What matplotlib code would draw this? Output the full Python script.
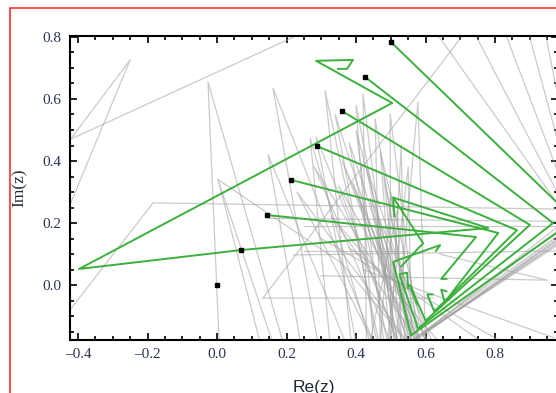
import matplotlib.pyplot as plt
from matplotlib.patches import Rectangle
from matplotlib.ticker import MultipleLocator

# starting points (black squares)
start_x = [0.0, 0.069, 0.144, 0.213, 0.288, 0.360, 0.426, 0.500]
start_y = [0.0, 0.113, 0.226, 0.339, 0.448, 0.561, 0.671, 0.784]

# green orbits
green_paths = [
    [(0.069, 0.113), (-0.397, 0.052), (0.504, 0.587), (0.285, 0.723), (0.391, 0.726), (0.374, 0.697), (0.348, 0.697)],
    [(0.069, 0.113), (0.78, 0.184), (0.507, 0.282), (0.593, 0.135), (0.53, 0.06)],
    [(0.507, 0.282), (0.51, 0.222)],
    [(0.144, 0.226), (0.745, 0.155), (0.645, 0.02), (0.66, 0.02)],
    [(0.213, 0.339), (0.809, 0.168), (0.655, -0.055), (0.645, -0.015), (0.66, -0.02)],
    [(0.288, 0.448), (0.863, 0.177), (0.625, -0.085), (0.605, -0.03), (0.62, -0.03)],
    [(0.360, 0.561), (0.900, 0.194), (0.600, -0.115), (0.555, 0.0), (0.575, -0.06)],
    [(0.426, 0.671), (0.967, 0.200), (0.578, -0.14), (0.525, 0.035), (0.547, 0.04), (0.55, -0.01)],
    [(0.500, 0.784), (1.03, 0.21), (0.558, -0.162), (0.507, 0.075), (0.642, 0.129), (0.63, 0.11)],
]

# gray spikes: peak and the two feet at the bottom edge
spike_peak_x = [-0.026, 0.161, 0.003, 0.147, 0.268, 0.311, 0.420, 0.455, 0.498, 0.285, 0.578,
                0.36, 0.39, 0.53, 0.48, 0.44, 0.33, 0.23, 0.40, 0.47,
                0.34, 0.38, 0.43, 0.50, 0.46, 0.52, 0.55, 0.40, 0.35, 0.28]
spike_peak_y = [0.655, 0.635, 0.34, 0.42, 0.474, 0.626, 0.615, 0.536, 0.552, 0.478, 0.59,
                0.40, 0.33, 0.45, 0.35, 0.28, 0.22, 0.30, 0.50, 0.43,
                0.55, 0.46, 0.38, 0.30, 0.22, 0.25, 0.38, 0.58, 0.32, 0.38]
spike_foot_a = [0.006, 0.29, 0.124, 0.24, 0.325, 0.386, 0.43, 0.47, 0.50, 0.40, 0.515,
                0.56, 0.55, 0.50, 0.53, 0.52, 0.58, 0.45, 0.48, 0.51,
                0.46, 0.49, 0.52, 0.47, 0.50, 0.44, 0.49, 0.45, 0.52, 0.50]
spike_foot_b = [0.19, 0.45, 0.16, 0.37, 0.44, 0.466, 0.51, 0.56, 0.58, 0.52, 0.60,
                0.59, 0.58, 0.54, 0.57, 0.62, 0.64, 0.55, 0.56, 0.60,
                0.55, 0.57, 0.60, 0.55, 0.58, 0.53, 0.56, 0.53, 0.61, 0.59]

# gray fan coming in from the top right
fan_top_x = [0.633, 0.742, 0.83, 0.897, 0.945]
fan_turn_x = [1.01, 1.02, 1.035, 1.045, 1.055]
fan_turn_y = [0.215, 0.21, 0.203, 0.197, 0.19]
fan_back_x = [0.53, 0.55, 0.57, 0.59, 0.61]
fan_back_y = [-0.21, -0.19, -0.17, -0.16, -0.145]

# dense gray band returning from the right edge
band_start_y = [0.22, 0.215, 0.21, 0.205, 0.20, 0.195, 0.19, 0.185]
band_end_x = [0.545, 0.56, 0.575, 0.585, 0.595, 0.605, 0.62, 0.635]
band_end_y = [-0.20, -0.185, -0.175, -0.165, -0.155, -0.145, -0.135, -0.125]

# other gray orbits
gray_paths = [
    [(-0.423, 0.468), (-0.25, 0.726), (-0.43, 0.24)],
    [(-0.50, 0.43), (0.26, 0.82)],
    [(-0.43, -0.09), (-0.184, 0.265), (0.98, 0.245)],
    [(0.71, 0.81), (0.132, -0.042), (0.62, -0.042)],
    [(0.15, 0.215), (1.03, 0.205)],
    [(0.25, 0.19), (1.05, 0.19)],
    [(0.22, 0.097), (0.98, 0.11)],
    [(0.30, 0.03), (0.95, 0.016), (0.64, 0.10)],
    [(0.30, 0.15), (0.83, -0.19)],
    [(0.42, 0.05), (0.97, -0.17)],
    [(0.38, 0.12), (0.77, -0.19)],
    [(0.003, 0.34), (0.36, 0.07), (0.55, -0.19)],
    [(0.25, 0.11), (0.55, 0.11)],
]

fig = plt.figure(figsize=(5.56, 3.93), dpi=100)
ax = fig.add_axes([70 / 556, 53 / 393, 488 / 556, 304 / 393])

gray = dict(color='#a0a0a0', lw=0.9, alpha=0.55)
for i in range(len(spike_peak_x)):
    ax.plot([spike_foot_a[i], spike_peak_x[i], spike_foot_b[i]], [-0.185, spike_peak_y[i], -0.185], **gray)

for i in range(len(fan_top_x)):
    ax.plot([fan_top_x[i], fan_turn_x[i], fan_back_x[i]], [0.81, fan_turn_y[i], fan_back_y[i]], **gray)

for i in range(len(band_start_y)):
    ax.plot([1.06, band_end_x[i]], [band_start_y[i], band_end_y[i]], color='#a0a0a0', lw=0.9, alpha=0.3)

for path in gray_paths:
    xs, ys = zip(*path)
    ax.plot(xs, ys, **gray)

for path in green_paths:
    xs, ys = zip(*path)
    ax.plot(xs, ys, color='#3cb03c', lw=1.4)

ax.plot(start_x, start_y, 's', color='black', ms=2.2, zorder=5)

ax.set_xlim(-0.423, 0.981)
ax.set_ylim(-0.177, 0.803)
ax.xaxis.set_major_locator(MultipleLocator(0.2))
ax.xaxis.set_minor_locator(MultipleLocator(0.05))
ax.yaxis.set_major_locator(MultipleLocator(0.2))
ax.yaxis.set_minor_locator(MultipleLocator(0.05))
ax.xaxis.set_major_formatter(plt.FuncFormatter(lambda v, p: f'{v:.1f}'.replace('-', '\u2013')))
ax.yaxis.set_major_formatter(plt.FuncFormatter(lambda v, p: f'{v:.1f}'.replace('-', '\u2013')))
ax.tick_params(which='both', direction='in', top=True, right=True, width=1.2,
               labelsize=11, labelcolor='#2b3556', pad=6)
ax.tick_params(which='major', length=5)
ax.tick_params(which='minor', length=3)
for lab in ax.get_xticklabels() + ax.get_yticklabels():
    lab.set_family('Liberation Serif')
for s in ax.spines.values():
    s.set_linewidth(1.5)

ax.set_xlabel('Re(z)', fontsize=12.5, family='Liberation Sans', color='#222a3a')
ax.xaxis.set_label_coords(0.5, -0.13)
ax.set_ylabel('Im(z)', fontsize=12.5, family='Liberation Serif', color='#222a3a')
ax.yaxis.set_label_coords(-0.086, 0.5)

fig.add_artist(Rectangle((10 / 556, -0.1), 1.2, 385 / 393 + 0.1, transform=fig.transFigure,
                         fill=False, edgecolor='#ff3030', lw=1.2))

fig.savefig('out.png', dpi=100)
